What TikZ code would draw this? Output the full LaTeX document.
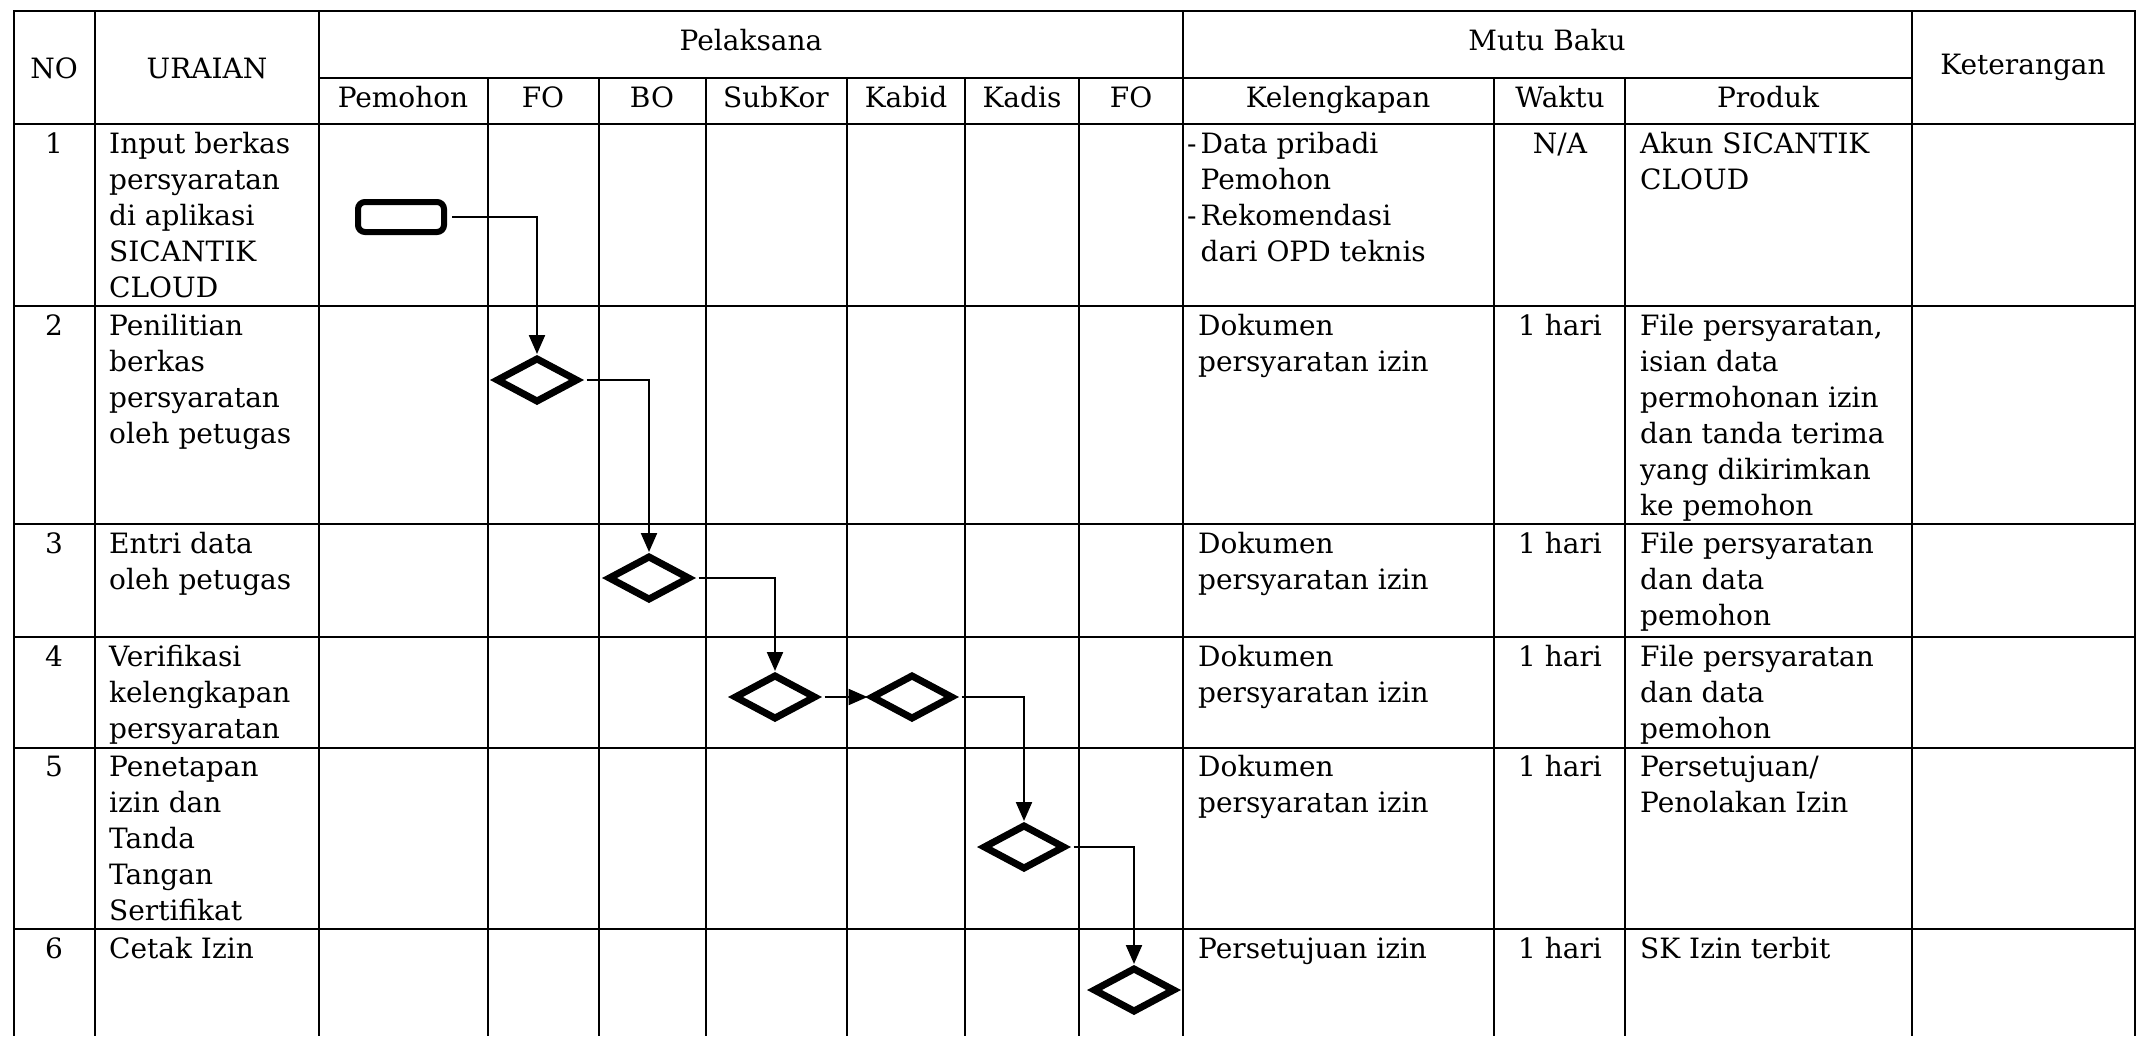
\documentclass[tikz,border=0pt]{standalone}
\usepackage{fontspec}
\setmainfont{DejaVu Serif}
\usetikzlibrary{shapes.geometric,arrows.meta}
\newcommand\fl{\rule{0pt}{24pt}}
\tikzset{
  gridline/.style={line width=2pt, black},
  txtfont/.style={font=\fontsize{28}{36}\selectfont},
  cell/.style={txtfont, inner sep=0pt, align=left, anchor=north west},
  cellc/.style={txtfont, inner sep=0pt, align=center, anchor=north},
  head/.style={txtfont, inner sep=0pt, anchor=base},
  dia/.style={diamond, draw, line width=7pt, minimum width=82pt, minimum height=45pt, inner sep=0pt},
  startbox/.style={draw, rounded corners=7pt, line width=6pt, minimum width=86pt, minimum height=30pt, inner sep=0pt},
  arr/.style={line width=2.2pt, shorten <=5pt, -{Triangle[length=19pt,width=16pt]}}
}
\begin{document}
\begin{tikzpicture}[x=1pt,y=-1pt]
\fill[white] (0,0) rectangle (2149,1036);
\useasboundingbox (0,0) rectangle (2149,1036);
% grid
\foreach \x in {14,95,319,1183,1912,2135} \draw[gridline] (\x,11) -- (\x,1036);
\foreach \x in {488,599,706,847,965,1079,1494,1625} \draw[gridline] (\x,78) -- (\x,1036);
\draw[gridline] (13,11) -- (2136,11);
\draw[gridline] (319,78) -- (1912,78);
\foreach \y in {124,306,524,637,748,929} \draw[gridline] (13,\y) -- (2136,\y);
% headers
\node[head] (hno) at (54,78) {NO};
\node[head] (hur) at (207,78) {URAIAN};
\node[head] (hpel) at (751,50) {Pelaksana};
\node[head] (hmb) at (1547,50) {Mutu Baku};
\node[head] (hket) at (2023,74) {Keterangan};
\node[head] (hpem) at (403,107) {Pemohon};
\node[head] (hfo1) at (543,107) {FO};
\node[head] (hbo) at (652,107) {BO};
\node[head] (hsub) at (776,107) {SubKor};
\node[head] (hkab) at (906,107) {Kabid};
\node[head] (hkad) at (1022,107) {Kadis};
\node[head] (hfo2) at (1131,107) {FO};
\node[head] (hkel) at (1338,107) {Kelengkapan};
\node[head] (hwak) at (1560,107) {Waktu};
\node[head] (hpro) at (1768,107) {Produk};
% row 1
\node[cellc] (n1) at (54,129) {\fl 1};
\node[cell] (u1) at (109,129) {\fl Input berkas\\persyaratan\\di aplikasi\\SICANTIK\\CLOUD};
\node[cell] (k1) at (1187,129) {\fl -\hspace{4pt}Data pribadi\\\hphantom{-}\hspace{4pt}Pemohon\\-\hspace{4pt}Rekomendasi\\\hphantom{-}\hspace{4pt}dari OPD teknis};
\node[cellc] (w1) at (1560,129) {\fl N/A};
\node[cell] (p1) at (1640,129) {\fl Akun SICANTIK\\CLOUD};
% row 2
\node[cellc] (n2) at (54,311) {\fl 2};
\node[cell] (u2) at (109,311) {\fl Penilitian\\berkas\\persyaratan\\oleh petugas};
\node[cell] (k2) at (1198,311) {\fl Dokumen\\persyaratan izin};
\node[cellc] (w2) at (1560,311) {\fl 1 hari};
\node[cell] (p2) at (1640,311) {\fl File persyaratan,\\isian data\\permohonan izin\\dan tanda terima\\yang dikirimkan\\ke pemohon};
% row 3
\node[cellc] (n3) at (54,529) {\fl 3};
\node[cell] (u3) at (109,529) {\fl Entri data\\oleh petugas};
\node[cell] (k3) at (1198,529) {\fl Dokumen\\persyaratan izin};
\node[cellc] (w3) at (1560,529) {\fl 1 hari};
\node[cell] (p3) at (1640,529) {\fl File persyaratan\\dan data\\pemohon};
% row 4
\node[cellc] (n4) at (54,642) {\fl 4};
\node[cell] (u4) at (109,642) {\fl Verifikasi\\kelengkapan\\persyaratan};
\node[cell] (k4) at (1198,642) {\fl Dokumen\\persyaratan izin};
\node[cellc] (w4) at (1560,642) {\fl 1 hari};
\node[cell] (p4) at (1640,642) {\fl File persyaratan\\dan data\\pemohon};
% row 5
\node[cellc] (n5) at (54,752) {\fl 5};
\node[cell] (u5) at (109,752) {\fl Penetapan\\izin dan\\Tanda\\Tangan\\Sertifikat};
\node[cell] (k5) at (1198,752) {\fl Dokumen\\persyaratan izin};
\node[cellc] (w5) at (1560,752) {\fl 1 hari};
\node[cell] (p5) at (1640,752) {\fl Persetujuan/\\Penolakan Izin};
% row 6
\node[cellc] (n6) at (54,934) {\fl 6};
\node[cell] (u6) at (109,934) {\fl Cetak Izin};
\node[cell] (k6) at (1198,934) {\fl Persetujuan izin};
\node[cellc] (w6) at (1560,934) {\fl 1 hari};
\node[cell] (p6) at (1640,934) {\fl SK Izin terbit};
% flow shapes
\node[startbox] (s1) at (401,217) {};
\node[dia] (d2) at (537,380) {};
\node[dia] (d3) at (649,578) {};
\node[dia] (d4) at (775,697) {};
\node[dia] (d5) at (912,697) {};
\node[dia] (d6) at (1024,847) {};
\node[dia] (d7) at (1134,990) {};
% connectors
\draw[arr] (s1.east) -| (d2.north);
\draw[arr] (d2.east) -| (d3.north);
\draw[arr] (d3.east) -| (d4.north);
\draw[arr] (d4.east) -- (d5.west);
\draw[arr] (d5.east) -| (d6.north);
\draw[arr] (d6.east) -| (d7.north);
\end{tikzpicture}
\end{document}
